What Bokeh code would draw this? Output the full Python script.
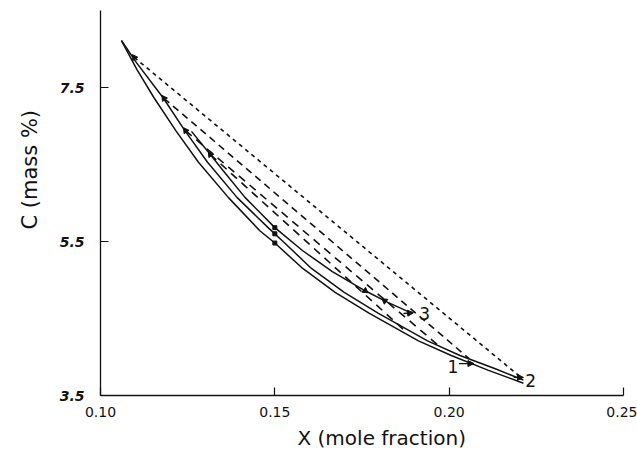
from bokeh.plotting import figure
from bokeh.models import Range1d, FixedTicker, Title, NumeralTickFormatter, Arrow, NormalHead
from bokeh.core.properties import value
from bokeh.embed import file_html
from bokeh.resources import INLINE

# ---- data ----
x_ticks = [0.10, 0.15, 0.20, 0.25]
y_ticks = [3.5, 5.5, 7.5]

# path 1 (lowest solid curve)
c1_x = [0.1060, 0.1105, 0.1153, 0.1216, 0.1281, 0.1367, 0.1457, 0.1500, 0.1580, 0.1673, 0.1770, 0.1912, 0.2006, 0.2111, 0.2213]
c1_y = [8.11, 7.73, 7.37, 6.94, 6.53, 6.07, 5.64, 5.48, 5.15, 4.84, 4.57, 4.21, 4.02, 3.83, 3.66]
# path 2 (middle solid curve)
c2_x = [0.1060, 0.1102, 0.1179, 0.1242, 0.1307, 0.1392, 0.1483, 0.1526, 0.1605, 0.1699, 0.1796, 0.1938, 0.2031, 0.2136, 0.2213]
c2_y = [8.11, 7.83, 7.37, 6.94, 6.53, 6.07, 5.67, 5.49, 5.15, 4.84, 4.57, 4.21, 4.02, 3.84, 3.70]
# path 3 (upper solid curve, ends at "3")
c3_x = [0.1261, 0.1315, 0.1352, 0.1415, 0.1500, 0.1580, 0.1665, 0.1759, 0.1824, 0.1892]
c3_y = [6.93, 6.63, 6.42, 6.07, 5.68, 5.38, 5.11, 4.86, 4.71, 4.57]

# dashed tie lines
tie_x0 = [0.1097, 0.1182, 0.1244, 0.1315]
tie_y0 = [7.89, 7.36, 6.94, 6.63]
tie_x1 = [0.2202, 0.2057, 0.1977, 0.1878]
tie_y1 = [3.75, 3.98, 4.12, 4.32]
tie_dash = ["4 4", "7 5", "8 6", "8 6"]

# filled points at X = 0.15
dot_x = [0.15, 0.15, 0.15]
dot_y = [5.68, 5.60, 5.48]

# path labels
lab_text = ["1", "2", "3"]
lab_x = [0.2011, 0.2234, 0.1930]
lab_y = [3.88, 3.69, 4.56]
# label arrows (start -> end)
arr_x0 = [0.2028, 0.2185, 0.1869]
arr_y0 = [3.915, 3.735, 4.565]
arr_x1 = [0.2071, 0.2213, 0.1898]
arr_y1 = [3.915, 3.735, 4.575]

# direction arrowheads on the curves
head_x = [0.1097, 0.1182, 0.1244, 0.1315, 0.1759, 0.1815]
head_y = [7.89, 7.36, 6.94, 6.63, 4.86, 4.73]
head_angle = [0.6, 0.6, 0.6, 0.6, -2.2, 0.95]

INK = "#111111"

p = figure(width=637, height=455,
           x_range=Range1d(0.10, 0.25), y_range=Range1d(3.5, 8.5),
           output_backend="svg", toolbar_location=None, title_location=None,
           min_border_left=96, min_border_right=14, min_border_top=10, min_border_bottom=60)
p.outline_line_color = None
p.xgrid.visible = False
p.ygrid.visible = False
p.background_fill_color = "white"
p.border_fill_color = "white"

for ax in (p.xaxis[0], p.yaxis[0]):
    ax.axis_line_color = INK
    ax.axis_line_width = 1.3
    ax.major_tick_line_color = INK
    ax.major_tick_line_width = 1.2
    ax.major_tick_in = 8
    ax.major_tick_out = 0
    ax.minor_tick_line_color = None
    ax.major_label_text_color = INK
    ax.major_label_text_font = "DejaVu Sans"
    ax.major_label_text_font_size = "14px"

p.xaxis.ticker = FixedTicker(ticks=x_ticks)
p.xaxis.formatter = NumeralTickFormatter(format="0.00")
p.xaxis.major_label_standoff = 11
p.yaxis.ticker = FixedTicker(ticks=y_ticks)
p.yaxis.formatter = NumeralTickFormatter(format="0.0")
p.yaxis.major_label_standoff = 16
p.yaxis.major_label_text_font_style = "bold italic"

# solid curves
for cx, cy in ((c1_x, c1_y), (c2_x, c2_y), (c3_x, c3_y)):
    p.line(cx, cy, line_color=INK, line_width=1.5)

# dashed tie lines
for i in range(len(tie_x0)):
    p.line([tie_x0[i], tie_x1[i]], [tie_y0[i], tie_y1[i]],
           line_color=INK, line_width=1.6, line_dash=tie_dash[i])

# markers
p.scatter(head_x, head_y, marker="triangle", size=6, angle=head_angle,
          fill_color=INK, line_color=INK)
p.scatter(dot_x, dot_y, marker="square", size=4, fill_color=INK, line_color=INK)

for i in range(len(arr_x0)):
    p.add_layout(Arrow(end=NormalHead(size=6, fill_color=INK, line_color=INK, line_width=1),
                       x_start=arr_x0[i], y_start=arr_y0[i], x_end=arr_x1[i], y_end=arr_y1[i],
                       line_color=INK, line_width=1.3))

p.text(lab_x, lab_y, text=lab_text, text_align="center", text_baseline="middle",
       text_font=value("DejaVu Sans"), text_font_size="17px", text_color=INK)

# axis titles
p.add_layout(Title(text="X (mole fraction)", align="left", offset=197, standoff=9,
                   text_font="DejaVu Sans", text_font_size="20px", text_font_style="normal",
                   text_color=INK), "below")
p.add_layout(Title(text="C (mass %)", align="left", offset=166, standoff=30,
                   text_font="DejaVu Sans", text_font_size="21px", text_font_style="normal",
                   text_color=INK), "left")

open("out.html", "w").write(file_html(p, INLINE))
